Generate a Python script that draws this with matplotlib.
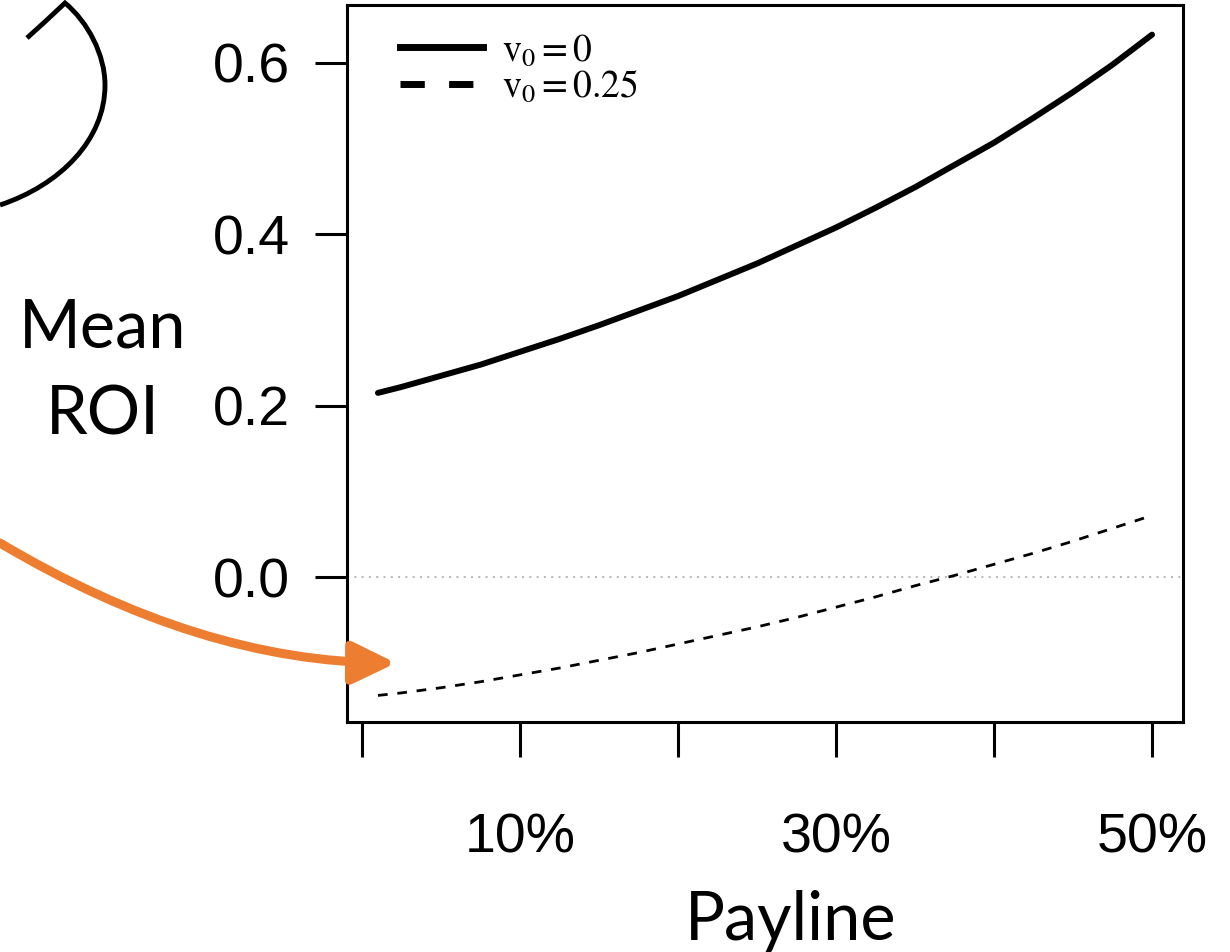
import matplotlib.pyplot as plt
from matplotlib.lines import Line2D
from matplotlib.path import Path
from matplotlib.patches import FancyArrowPatch, PathPatch

plt.rcParams['font.family'] = 'Liberation Sans'
plt.rcParams['mathtext.fontset'] = 'stix'

# values
payline = [0.01, 0.025, 0.05, 0.075, 0.10, 0.125, 0.15, 0.175, 0.20, 0.225, 0.25,
           0.275, 0.30, 0.325, 0.35, 0.375, 0.40, 0.425, 0.45, 0.475, 0.50]
roi_v0 = [0.215, 0.222, 0.235, 0.248, 0.263, 0.278, 0.294, 0.311, 0.328, 0.347, 0.366,
          0.387, 0.408, 0.431, 0.455, 0.481, 0.507, 0.536, 0.566, 0.598, 0.633]
roi_v025 = [-0.138, -0.135, -0.129, -0.122, -0.114, -0.106, -0.097, -0.088, -0.078, -0.068, -0.058,
            -0.047, -0.035, -0.023, -0.010, 0.002, 0.015, 0.028, 0.042, 0.057, 0.072]
x_ticks = [0.0, 0.1, 0.2, 0.3, 0.4, 0.5]
x_labels = ['', '10%', '', '30%', '', '50%']
y_ticks = [0.0, 0.2, 0.4, 0.6]
y_labels = ['0.0', '0.2', '0.4', '0.6']
legend_labels = [r'$\mathrm{v}_0 = 0$', r'$\mathrm{v}_0 = 0.25$']

W, H = 1230, 952
fig = plt.figure(figsize=(W / 100, H / 100), dpi=100)


def fp(x, y):
    # pixel position (from top-left) -> figure fraction
    return (x / W, 1 - y / H)


ax = fig.add_axes([347 / W, 1 - 722 / H, (1183 - 347) / W, (722 - 5) / H])
ax.plot(payline, roi_v0, color='black', lw=4.3, solid_capstyle='round')
ax.plot(payline, roi_v025, color='black', lw=2, dashes=(3.5, 3.5))
ax.axhline(0, color='#bbbbbb', lw=1.5, ls=(0, (1, 2.5)), zorder=0)

ax.set_xlim(-0.0096, 0.5196)
ax.set_ylim(-0.169, 0.6676)
ax.set_xticks(x_ticks)
ax.set_xticklabels(x_labels)
ax.set_yticks(y_ticks)
ax.set_yticklabels(y_labels)
for s in ax.spines.values():
    s.set_linewidth(2.2)
ax.tick_params(axis='y', length=23, width=2.2, pad=18, labelsize=40)
ax.tick_params(axis='x', length=25, width=2.2, pad=40, labelsize=40)

handles = [Line2D([], [], color='black', lw=5),
           Line2D([], [], color='black', lw=5, dashes=(3.5, 3.5))]
ax.legend(handles, legend_labels, loc='upper left', bbox_to_anchor=(0.055, 0.972),
          frameon=False, fontsize=27, handlelength=2.2, handletextpad=0.5,
          labelspacing=0.0, borderaxespad=0, borderpad=0.2)

# side labels
fig.text(*fp(103, 348), 'Mean', ha='center', va='baseline', fontsize=48, family='Lato')
fig.text(*fp(103, 435), 'ROI', ha='center', va='baseline', fontsize=48, family='Lato')
fig.text(*fp(791, 940), 'Payline', ha='center', va='baseline', fontsize=48, family='Lato')

# black arc in the top-left corner
arc = Path([fp(27, 38), fp(45, 22), fp(65, 3),
            fp(88, 22), fp(105, 55), fp(105, 85),
            fp(105, 140), fp(60, 185), fp(0, 205)],
           [Path.MOVETO, Path.CURVE3, Path.CURVE3,
            Path.CURVE4, Path.CURVE4, Path.CURVE4,
            Path.CURVE4, Path.CURVE4, Path.CURVE4])
fig.add_artist(PathPatch(arc, transform=fig.transFigure, fill=False, lw=3.5, color='black'))

# orange arrow
arrow_path = Path([fp(0, 543), fp(200, 662), fp(396, 663)],
                  [Path.MOVETO, Path.CURVE3, Path.CURVE3])
fig.add_artist(FancyArrowPatch(path=arrow_path, transform=fig.transFigure,
                               arrowstyle='-|>,head_length=26,head_width=12.6',
                               mutation_scale=1, color='#ED7D31', lw=6.5))

fig.savefig('out.png', dpi=100)
